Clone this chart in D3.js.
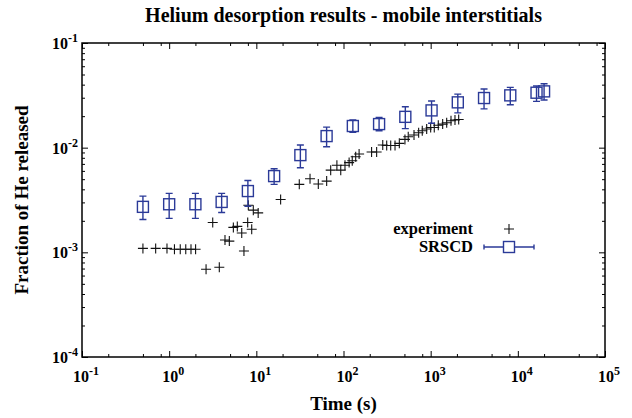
<!DOCTYPE html>
<html>
<head>
<meta charset="utf-8">
<script src="https://cdn.jsdelivr.net/npm/d3@7"></script>
<style>
  body { margin: 0; background: #fff; }
  text { font-family: "Liberation Serif", "Times New Roman", serif; font-weight: bold; fill: #000; }
</style>
</head>
<body>
<svg id="chart" width="632" height="418"></svg>
<script>
const width = 632;
const height = 418;
const margin = { top: 43, right: 27, bottom: 61, left: 82 };

// experiment (time s, fraction released)
const expTime = [0.50, 0.70, 0.944, 1.15, 1.34, 1.55, 1.78, 2.01, 2.65, 3.76, 3.16, 4.37, 4.9, 5.45, 6.05,
  6.8, 7.21, 7.96, 8.85, 8.09, 9.23, 10.5, 19.0, 31.1, 41.3, 51.4, 64.1, 71.3, 84, 93, 104, 116, 126,
  138, 151, 210, 240, 282, 313, 348, 390, 437, 507, 553, 644, 728, 801, 900, 1000, 1100, 1223, 1373,
  1527, 1711, 1901, 2096];
const expFrac = [1.09e-3, 1.09e-3, 1.09e-3, 1.07e-3, 1.07e-3, 1.07e-3, 1.07e-3, 1.07e-3, 6.9e-4, 7.2e-4,
  1.93e-3, 1.31e-3, 1.28e-3, 1.73e-3, 1.77e-3, 1.53e-3, 1.03e-3, 1.93e-3, 1.66e-3, 2.82e-3, 2.53e-3,
  2.38e-3, 3.2e-3, 4.46e-3, 5.04e-3, 4.49e-3, 4.79e-3, 6.1e-3, 6.8e-3, 6.1e-3, 6.8e-3, 7.2e-3, 7.5e-3,
  8.2e-3, 8.7e-3, 9.1e-3, 9.1e-3, 1.06e-2, 1.05e-2, 1.05e-2, 1.05e-2, 1.10e-2, 1.20e-2, 1.27e-2,
  1.32e-2, 1.39e-2, 1.45e-2, 1.51e-2, 1.56e-2, 1.56e-2, 1.64e-2, 1.68e-2, 1.73e-2, 1.81e-2, 1.84e-2,
  1.86e-2];

// SRSCD simulation with error bars
const simTime = [0.5, 1, 2, 4, 8, 16, 32, 64, 128, 256, 512, 1024, 2048, 4096, 8192, 16384, 20000];
const simFrac = [2.72e-3, 2.88e-3, 2.88e-3, 3.03e-3, 3.85e-3, 5.35e-3, 8.49e-3, 1.29e-2, 1.61e-2,
  1.68e-2, 1.97e-2, 2.27e-2, 2.71e-2, 2.98e-2, 3.16e-2, 3.35e-2, 3.45e-2];
const simLow = [2.06e-3, 2.11e-3, 2.11e-3, 2.40e-3, 2.76e-3, 4.46e-3, 6.43e-3, 1.02e-2, 1.40e-2,
  1.45e-2, 1.52e-2, 1.71e-2, 2.15e-2, 2.35e-2, 2.57e-2, 2.77e-2, 2.85e-2];
const simHigh = [3.44e-3, 3.66e-3, 3.66e-3, 3.66e-3, 4.86e-3, 6.28e-3, 1.06e-2, 1.57e-2, 1.84e-2,
  1.94e-2, 2.46e-2, 2.79e-2, 3.25e-2, 3.63e-2, 3.77e-2, 3.88e-2, 4.08e-2];

const xExps = [-1, 0, 1, 2, 3, 4, 5];
const yExps = [-4, -3, -2, -1];

const blue = "#2b3a98";
const svg = d3.select("#chart");

const x = d3.scaleLog().domain([1e-1, 1e5]).range([margin.left, width - margin.right]);
const y = d3.scaleLog().domain([1e-4, 1e-1]).range([height - margin.bottom, margin.top]);

const xMajor = xExps.map(e => Math.pow(10, e));
const yMajor = yExps.map(e => Math.pow(10, e));
let xMinor = [];
xMajor.slice(0, -1).forEach(v => [2, 5, 8].forEach(m => xMinor.push(v * m)));
let yMinor = [];
yMajor.slice(0, -1).forEach(v => d3.range(2, 10).forEach(m => yMinor.push(v * m)));

// ticks on all four sides, pointing in
function tickAxis(axis, g, vals, size) {
  g.call(axis.tickValues(vals).tickSize(size).tickFormat(""));
  g.select(".domain").remove();
  g.selectAll("line").attr("stroke", "#000").attr("stroke-width", 1);
}
const plotB = height - margin.bottom, plotT = margin.top;
const plotL = margin.left, plotR = width - margin.right;
tickAxis(d3.axisBottom(x), svg.append("g").attr("transform", `translate(0,${plotB})`), xMinor, -3);
tickAxis(d3.axisBottom(x), svg.append("g").attr("transform", `translate(0,${plotB})`), xMajor, -6);
tickAxis(d3.axisTop(x), svg.append("g").attr("transform", `translate(0,${plotT})`), xMinor, -3);
tickAxis(d3.axisTop(x), svg.append("g").attr("transform", `translate(0,${plotT})`), xMajor, -6);
tickAxis(d3.axisLeft(y), svg.append("g").attr("transform", `translate(${plotL},0)`), yMinor, -3);
tickAxis(d3.axisLeft(y), svg.append("g").attr("transform", `translate(${plotL},0)`), yMajor, -6);
tickAxis(d3.axisRight(y), svg.append("g").attr("transform", `translate(${plotR},0)`), yMinor, -3);
tickAxis(d3.axisRight(y), svg.append("g").attr("transform", `translate(${plotR},0)`), yMajor, -6);

svg.append("rect")
  .attr("x", plotL).attr("y", plotT)
  .attr("width", plotR - plotL).attr("height", plotB - plotT)
  .attr("fill", "none").attr("stroke", "#000").attr("stroke-width", 1.5);

// tick labels  10^n
function powLabel(g, e) {
  g.append("tspan").text("10");
  g.append("tspan").attr("dy", -7).attr("font-size", 12).text(e);
}
xExps.forEach(e => {
  const t = svg.append("text").attr("x", x(Math.pow(10, e)) + 4).attr("y", plotB + 25)
    .attr("text-anchor", "middle").attr("font-size", 16);
  powLabel(t, e);
});
yExps.forEach(e => {
  const t = svg.append("text").attr("x", plotL - 4).attr("y", y(Math.pow(10, e)) + 6)
    .attr("text-anchor", "end").attr("font-size", 16);
  powLabel(t, e);
});

// titles
svg.append("text").attr("x", (plotL + plotR) / 2).attr("y", 22)
  .attr("text-anchor", "middle").attr("font-size", 20)
  .text("Helium desorption results - mobile interstitials");
svg.append("text").attr("x", (plotL + plotR) / 2).attr("y", 410)
  .attr("text-anchor", "middle").attr("font-size", 19).text("Time (s)");
svg.append("text")
  .attr("transform", `translate(28,${(plotT + plotB) / 2}) rotate(-90)`)
  .attr("text-anchor", "middle").attr("font-size", 19).text("Fraction of He released");

// experiment crosses
const crossPath = "M-5,0H5M0,-5V5";
svg.append("g").selectAll("path")
  .data(expTime.map((t, i) => [t, expFrac[i]]))
  .join("path")
  .attr("transform", d => `translate(${x(d[0])},${y(d[1])})`)
  .attr("d", crossPath)
  .attr("stroke", "#111").attr("stroke-width", 1.1).attr("fill", "none");

// SRSCD squares with error bars
const sim = simTime.map((t, i) => ({ t, v: simFrac[i], lo: simLow[i], hi: simHigh[i] }));
const gs = svg.append("g").attr("stroke", blue).attr("fill", "none");
gs.selectAll("path.err").data(sim).join("path")
  .attr("class", "err")
  .attr("d", d => {
    const cx = x(d.t), yl = y(d.lo), yh = y(d.hi);
    return `M${cx},${yl}V${yh}M${cx - 3.5},${yl}H${cx + 3.5}M${cx - 3.5},${yh}H${cx + 3.5}`;
  })
  .attr("stroke-width", 1.4);
gs.selectAll("rect").data(sim).join("rect")
  .attr("x", d => x(d.t) - 5.5).attr("y", d => y(d.v) - 5.5)
  .attr("width", 11).attr("height", 11)
  .attr("stroke-width", 1.4);

// legend
const lx = 473, ly1 = 234, ly2 = 252, sx = 509;
svg.append("text").attr("x", lx).attr("y", ly1).attr("text-anchor", "end")
  .attr("font-size", 16.5).text("experiment");
svg.append("text").attr("x", lx).attr("y", ly2).attr("text-anchor", "end")
  .attr("font-size", 16.5).text("SRSCD");
svg.append("path").attr("transform", `translate(${sx},${ly1 - 5})`)
  .attr("d", crossPath).attr("stroke", "#111").attr("stroke-width", 1.1);
svg.append("path")
  .attr("d", `M${sx - 25},${ly2 - 5}H${sx + 25}M${sx - 25},${ly2 - 7.5}V${ly2 - 2.5}M${sx + 25},${ly2 - 7.5}V${ly2 - 2.5}`)
  .attr("stroke", blue).attr("stroke-width", 1.4);
svg.append("rect").attr("x", sx - 5.5).attr("y", ly2 - 10.5).attr("width", 11).attr("height", 11)
  .attr("fill", "#fff").attr("stroke", blue).attr("stroke-width", 1.4);
</script>
</body>
</html>
